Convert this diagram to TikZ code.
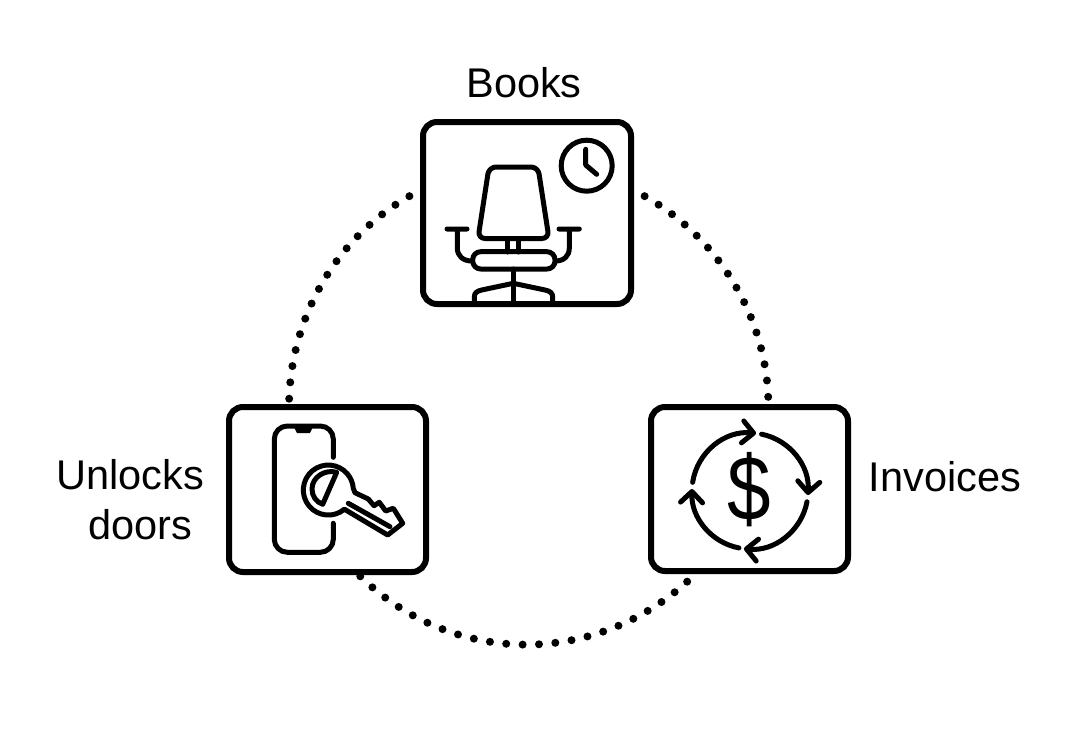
\documentclass[tikz,border=0pt]{standalone}
\usepackage{fontspec}
\setmainfont{Liberation Sans}
\usetikzlibrary{positioning,arrows.meta}

\begin{document}
\begin{tikzpicture}[
        x=1pt, y=1pt,
        iconbox/.style={draw, line width=6pt, rounded corners=14pt, outer sep=0pt, inner sep=0pt},
        lbl/.style={inner sep=0pt, align=center, font=\fontsize{41.5}{50}\selectfont},
        dotarc/.style={line width=8pt, line cap=round, dash pattern=on 0pt off 16.4pt, dash phase=1pt},
        iconline/.style={line width=5pt, line cap=round, line join=round},
        cyc/.style={iconline, -{Straight Barb[length=11pt, width=22pt, round]}},
    ]
    \useasboundingbox (0,0) rectangle (1066,-742);

    % --- Boxes ---
    \node[iconbox, minimum width=208pt, minimum height=182pt] (booksbox) at (527,-213) {};
    \node[iconbox, minimum width=197pt, minimum height=165pt] (doorsbox) at (327.5,-489.5) {};
    \node[iconbox, minimum width=197pt, minimum height=164pt] (invoicebox) at (749.5,-489) {};

    % --- Labels ---
    \node[lbl, above=24pt of booksbox, xshift=-3pt] (bookslbl) {Books};
    \node[lbl, left=25pt of doorsbox, yshift=-10pt] (doorslbl) {Unlocks\\\hspace*{20pt}doors};
    \node[lbl, right=20.5pt of invoicebox, yshift=12pt] (invoicelbl) {Invoices};

    % --- Dotted ring ---
    \draw[dotarc] (booksbox.13) to[out=-25.9, in=90, looseness=0.92] (invoicebox.77.3);
    \draw[dotarc] (invoicebox.238.4) to[out=-134.5, in=-45.5, looseness=1.02] (doorsbox.289.7);
    \draw[dotarc] (booksbox.167) to[out=205.9, in=90, looseness=0.92] (doorsbox.115.6);

    % --- Chair ---
    \draw[iconline, rounded corners=7pt] (489,-167) -- (538,-167) -- (549,-238.5) -- (478,-238.5) -- cycle;
    \draw[iconline] (507.7,-238.5) -- (507.7,-252) (518.3,-238.5) -- (518.3,-252);
    \draw[iconline, rounded corners=8pt] (472.7,-251.7) rectangle (555,-269);
    \draw[iconline] (513.3,-269) -- (513.3,-303);
    \draw[iconline] (474.3,-303) -- (474.3,-297) .. controls (474.3,-293) and (477,-291) .. (481.7,-290)
        -- (513.3,-283.3) -- (545,-290) .. controls (550,-291) and (552.7,-293) .. (552.7,-297) -- (552.7,-303);
    \draw[iconline] (447,-229) -- (467,-229) (457.3,-229) -- (457.3,-248) .. controls (457.3,-256) and (463,-261) .. (472,-261);
    \draw[iconline] (559,-229) -- (579.3,-229) (569.3,-229) -- (569.3,-248) .. controls (569.3,-256) and (564,-261) .. (555.3,-261);

    % --- Clock ---
    \draw[iconline] (586.7,-165.7) circle[radius=25.5];
    \draw[iconline] (585.7,-149.3) -- (585.7,-165) -- (596.7,-174.3);

    % --- Phone ---
    \draw[iconline, rounded corners=13pt] (333.3,-457.3) -- (333.3,-426) -- (274.3,-426) -- (274.3,-552.3) -- (333.3,-552.3) -- (333.3,-523.3);
    \fill (293.3,-426) -- (297,-433) -- (310,-433) -- (313.3,-426) -- cycle;

    % --- Key ---
    \draw[iconline] (344.4,-509.2) arc[start angle=-50, end angle=-356, radius=25]
        -- (355,-492.7) -- (368.3,-499) -- (374,-505.7) -- (379.3,-502.3) -- (385.7,-511) -- (393.3,-508.3)
        -- (402.7,-523.3) -- (387.7,-535) -- cycle;
    \draw[iconline] (348.3,-503.3) -- (390,-526.7);
    \draw[iconline] (336.7,-472.3) .. controls (325,-469) and (312,-477) .. (312,-489)
        .. controls (312,-496) and (316,-502) .. (322.7,-504.3) -- cycle;

    % --- Dollar ---
    \coordinate (dollarhub) at (750,-491);
    \node[inner sep=0pt, xscale=0.85, transform shape, font=\fontsize{92}{92}\selectfont] (dollar) at (749,-489.5) {\$};
    \foreach \a/\b in {171.4/84, 78.5/-4, -10.7/-96, -101/-182} {
        \draw[cyc] ([shift={(\a:58)}]dollarhub) arc[start angle=\a, end angle=\b, radius=58];
    }
\end{tikzpicture}
\end{document}
